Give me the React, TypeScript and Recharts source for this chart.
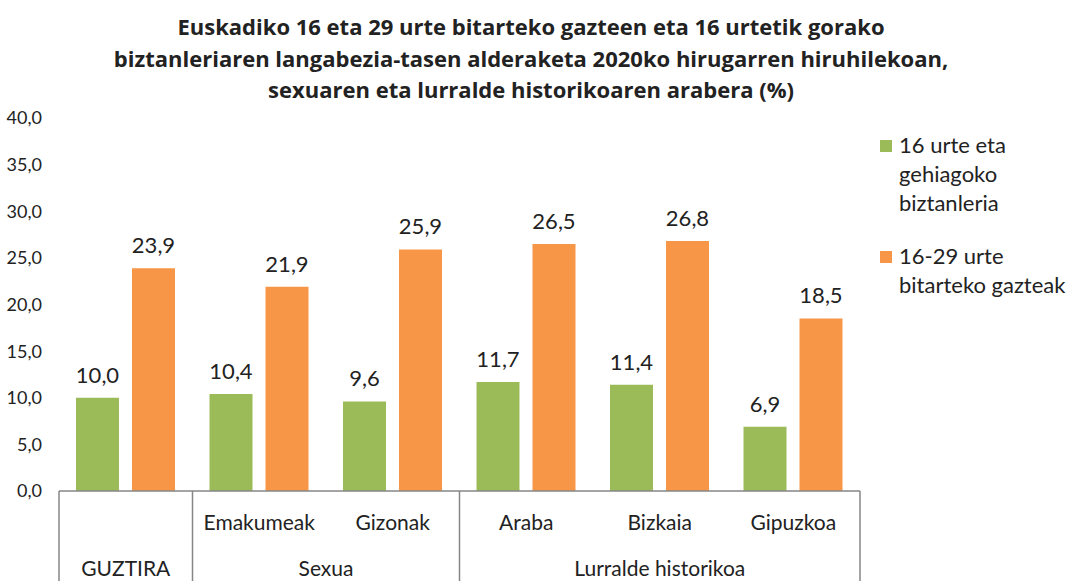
import { BarChart, Bar, XAxis, YAxis, LabelList } from "recharts";

// Categories and groups for the two-level x axis
const categories = ["GUZTIRA", "Emakumeak", "Gizonak", "Araba", "Bizkaia", "Gipuzkoa"];
const catLabels = ["", "Emakumeak", "Gizonak", "Araba", "Bizkaia", "Gipuzkoa"];
const groups = ["GUZTIRA", "Sexua", "Sexua", "Lurralde historikoa", "Lurralde historikoa", "Lurralde historikoa"];

// Unemployment rates (%)
const total = [10.0, 10.4, 9.6, 11.7, 11.4, 6.9];
const youth = [23.9, 21.9, 25.9, 26.5, 26.8, 18.5];

const yTicks = [0, 5, 10, 15, 20, 25, 30, 35, 40];

const seriesNames = ["16 urte eta gehiagoko biztanleria", "16-29 urte bitarteko gazteak"];
const legendLines = [
  ["16 urte eta", "gehiagoko", "biztanleria"],
  ["16-29 urte", "bitarteko gazteak"],
];

const COLORS = ["#9BBB59", "#F79646"];
const FONT = "Lato, 'Open Sans', sans-serif";

const data = categories.map((c, i) => ({ name: c, total: total[i], youth: youth[i] }));

const W = 1073;
const H = 581;
const LEFT = 59;
const RIGHT = 213;
const PLOT_W = W - LEFT - RIGHT;

const fmt = (v: number) => v.toFixed(1).replace(".", ",");

function AxisTick(props: any) {
  const { x, y, index } = props;
  const band = PLOT_W / categories.length;
  const g = groups[index];
  const first = index === 0 || groups[index - 1] !== g;
  const last = index === categories.length - 1;
  let count = 0;
  for (let j = index; j < groups.length && groups[j] === g; j++) count++;
  return (
    <g>
      <text x={x} y={y + 39} textAnchor="middle" fontSize={21} fill="#222" fontFamily={FONT}>
        {catLabels[index]}
      </text>
      {first && (
        <>
          <line x1={x - band / 2} x2={x - band / 2} y1={y} y2={y + 95} stroke="#868686" strokeWidth={1.5} />
          <text
            x={x + ((count - 1) * band) / 2}
            y={y + 85}
            textAnchor="middle"
            fontSize={21}
            fill="#222"
            fontFamily={FONT}
          >
            {g}
          </text>
        </>
      )}
      {last && <line x1={x + band / 2} x2={x + band / 2} y1={y} y2={y + 95} stroke="#868686" strokeWidth={1.5} />}
    </g>
  );
}

function LegendBox() {
  return (
    <div
      style={{
        position: "absolute",
        left: 880,
        top: 130,
        width: 193,
        fontFamily: FONT,
        fontSize: 22,
        color: "#222",
        lineHeight: "29px",
      }}
    >
      {legendLines.map((lines, i) => (
        <div key={i} style={{ display: "flex", alignItems: "flex-start", marginBottom: 24 }} title={seriesNames[i]}>
          <div style={{ width: 12, height: 12, background: COLORS[i], marginTop: 10, marginRight: 7, flexShrink: 0 }} />
          <div style={{ whiteSpace: "nowrap" }}>
            {lines.map((l, k) => (
              <div key={k}>{l}</div>
            ))}
          </div>
        </div>
      ))}
    </div>
  );
}

export default function App() {
  return (
    <div style={{ position: "absolute", left: 0, top: 0, width: W, height: H, background: "#fff", overflow: "hidden" }}>
      <div
        style={{
          position: "absolute",
          left: 0,
          top: 11,
          width: 1062,
          textAlign: "center",
          fontFamily: "'Open Sans', sans-serif",
          fontWeight: "bold",
          fontSize: 22,
          lineHeight: "31.5px",
          color: "#222",
        }}
      >
        Euskadiko 16 eta 29 urte bitarteko gazteen eta 16 urtetik gorako
        <br />
        biztanleriaren langabezia-tasen alderaketa 2020ko hirugarren hiruhilekoan,
        <br />
        sexuaren eta lurralde historikoaren arabera (%)
      </div>
      <div style={{ position: "absolute", left: 0, top: 0 }}>
        <BarChart
          width={W}
          height={H}
          data={data}
          margin={{ top: 118, right: RIGHT, bottom: 0, left: 0 }}
          barSize={43}
          barGap={13}
        >
          <YAxis
            width={LEFT}
            domain={[0, 40]}
            ticks={yTicks}
            tickFormatter={fmt}
            axisLine={false}
            tickLine={false}
            tickSize={0}
            tickMargin={17}
            tick={{ fontSize: 18, fill: "#222", fontFamily: FONT }}
          />
          <XAxis
            dataKey="name"
            height={90}
            interval={0}
            tickSize={0}
            tickMargin={0}
            tickLine={false}
            axisLine={{ stroke: "#868686", strokeWidth: 1.5 }}
            tick={<AxisTick />}
          />
          <Bar dataKey="total" name={seriesNames[0]} fill={COLORS[0]} isAnimationActive={false}>
            <LabelList dataKey="total" position="top" offset={15} formatter={(v: any) => fmt(Number(v))} fontSize={22} fill="#222" fontFamily={FONT} />
          </Bar>
          <Bar dataKey="youth" name={seriesNames[1]} fill={COLORS[1]} isAnimationActive={false}>
            <LabelList dataKey="youth" position="top" offset={15} formatter={(v: any) => fmt(Number(v))} fontSize={22} fill="#222" fontFamily={FONT} />
          </Bar>
        </BarChart>
      </div>
      <LegendBox />
    </div>
  );
}
